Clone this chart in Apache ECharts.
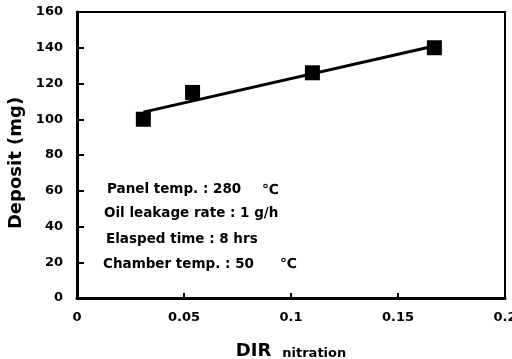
<!DOCTYPE html>
<html>
<head>
<meta charset="utf-8">
<script src="https://cdn.jsdelivr.net/npm/echarts@6/dist/echarts.min.js"></script>
<style>
  html, body { margin: 0; padding: 0; background: #fff; }
  #main { width: 512px; height: 359px; }
</style>
</head>
<body>
<div id="main"></div>
<script>
// measured points
var dirValues = [0.031, 0.054, 0.110, 0.167];
var depositValues = [100, 115, 126, 140];
// fitted line ends
var trendX = [0.031, 0.167];
var trendY = [104, 141];
var noteLines = [
  'Panel temp. : 280',
  'Oil leakage rate : 1 g/h',
  'Elasped time : 8 hrs',
  'Chamber temp. : 50'
];

var FONT = 'DejaVu Sans';
var myChart = echarts.init(document.getElementById('main'));

var pts = dirValues.map(function (x, i) { return [x, depositValues[i]]; });
var trend = trendX.map(function (x, i) { return [x, trendY[i]]; });

var noteTop = [190, 214, 240, 265];
var noteLeft = [107, 104, 106, 103];
var graphics = noteLines.map(function (t, i) {
  return {
    type: 'text', left: noteLeft[i], top: noteTop[i] - 8,
    style: { text: t, font: 'bold 13.5px "' + FONT + '"', fill: '#000' }
  };
});
graphics.push({
  type: 'text', left: 262, top: 183,
  style: { text: '℃', font: 'bold 14px "' + FONT + '"', fill: '#000' }
});
graphics.push({
  type: 'text', left: 280, top: 257,
  style: { text: '℃', font: 'bold 14px "' + FONT + '"', fill: '#000' }
});

option = {
  animation: false,
  backgroundColor: '#fff',
  grid: {
    left: 77, top: 12, right: 7, bottom: 61,
    outerBoundsMode: 'none',
    show: true, borderColor: '#000', borderWidth: 2
  },
  xAxis: {
    type: 'value', min: 0, max: 0.2, interval: 0.05,
    name: '{big|DIR}{gap|}{small|nitration}',
    nameLocation: 'middle', nameGap: 42,
    nameTextStyle: {
      rich: {
        big: { fontFamily: FONT, fontWeight: 'bold', fontSize: 18, lineHeight: 20, color: '#000', verticalAlign: 'bottom' },
        gap: { width: 11 },
        small: { fontFamily: FONT, fontWeight: 'bold', fontSize: 13, lineHeight: 16, color: '#000', verticalAlign: 'bottom' }
      }
    },
    axisLine: { show: true, lineStyle: { color: '#000', width: 3 } },
    axisTick: { show: true, inside: true, length: 5, lineStyle: { color: '#000', width: 2 } },
    axisLabel: { margin: 13, fontFamily: FONT, fontWeight: 'bold', fontSize: 13, color: '#000' },
    splitLine: { show: false }
  },
  yAxis: {
    type: 'value', min: 0, max: 160, interval: 20,
    name: 'Deposit (mg)',
    nameLocation: 'middle', nameGap: 50,
    nameTextStyle: { fontFamily: FONT, fontWeight: 'bold', fontSize: 18, color: '#000', padding: [0, 16, 0, 0] },
    axisLine: { show: true, lineStyle: { color: '#000', width: 3 } },
    axisTick: { show: true, inside: true, length: 7, lineStyle: { color: '#000', width: 2 } },
    axisLabel: { margin: 14, fontFamily: FONT, fontWeight: 'bold', fontSize: 13, color: '#000' },
    splitLine: { show: false }
  },
  graphic: graphics,
  series: [
    {
      type: 'line', data: trend, showSymbol: false,
      lineStyle: { color: '#000', width: 3 }
    },
    {
      type: 'scatter', data: pts, symbol: 'rect', symbolSize: 15,
      itemStyle: { color: '#000', opacity: 1 }
    }
  ]
};
myChart.setOption(option);
</script>
</body>
</html>
